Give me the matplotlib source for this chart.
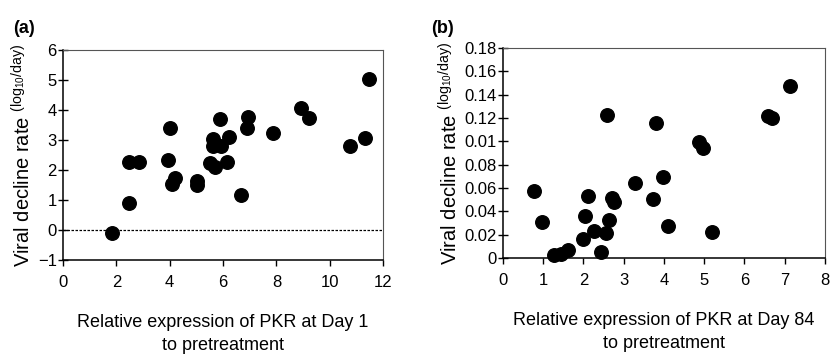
import matplotlib
matplotlib.use("Agg")
import matplotlib.pyplot as plt

plt.rcParams['font.family'] = ['Liberation Sans', 'DejaVu Sans']

# Panel (a): PKR at Day 1 vs viral decline rate
a_x = [1.85, 2.47, 2.47, 2.85, 3.93, 4.0, 4.08, 4.21, 5.01, 5.01, 5.50, 5.63, 5.63, 5.69,
       5.87, 5.94, 6.13, 6.24, 6.66, 6.88, 6.92, 7.88, 8.92, 9.21, 10.74, 11.33, 11.47]
a_y = [-0.11, 2.27, 0.89, 2.27, 2.33, 3.39, 1.52, 1.72, 1.63, 1.5, 2.22, 3.02, 2.81, 2.09,
       3.7, 2.81, 2.26, 3.11, 1.17, 3.39, 3.76, 3.22, 4.06, 3.74, 2.81, 3.08, 5.03]

# Panel (b): PKR at Day 84 vs viral decline rate
b_x = [0.77, 0.97, 1.26, 1.44, 1.61, 1.98, 2.03, 2.11, 2.27, 2.44, 2.56, 2.59, 2.64, 2.71,
       2.75, 3.27, 3.73, 3.81, 3.98, 4.11, 4.88, 4.98, 5.20, 6.59, 6.69, 7.13]
b_y = [0.0578, 0.0313, 0.0023, 0.0034, 0.0071, 0.0165, 0.0356, 0.0535, 0.0234, 0.0051,
       0.0214, 0.123, 0.0322, 0.0518, 0.0478, 0.0647, 0.0507, 0.1154, 0.0698, 0.0271,
       0.0997, 0.094, 0.0225, 0.1216, 0.1196, 0.1472]

a_xticks = [0, 2, 4, 6, 8, 10, 12]
a_yticks = [-1, 0, 1, 2, 3, 4, 5, 6]
b_xticks = [0, 1, 2, 3, 4, 5, 6, 7, 8]
b_yticks = [0, 0.02, 0.04, 0.06, 0.08, 0.10, 0.12, 0.14, 0.16, 0.18]
b_yticklabels = ['0', '0.02', '0.04', '0.06', '0.08', '0.01', '0.12', '0.14', '0.16', '0.18']

ylabel = r"Viral decline rate $^{\mathregular{(log_{10}/day)}}$"
xlabel_a = "Relative expression of PKR at Day 1\nto pretreatment"
xlabel_b = "Relative expression of PKR at Day 84\nto pretreatment"

fig = plt.figure(figsize=(8.38, 3.55), dpi=100)
ax1 = fig.add_axes([0.0752, 0.2676, 0.382, 0.5915])
ax2 = fig.add_axes([0.6002, 0.2732, 0.3842, 0.5915])

def style(ax):
    for s in ['left', 'bottom']:
        ax.spines[s].set_linewidth(1.1)
        ax.spines[s].set_color('black')
    for s in ['top', 'right']:
        ax.spines[s].set_linewidth(0.8)
        ax.spines[s].set_color('#555555')
    ax.tick_params(axis='y', direction='inout', length=7, width=1, labelsize=12, pad=1)
    ax.tick_params(axis='x', direction='out', length=4, width=1, labelsize=12, pad=7)

ax1.scatter(a_x, a_y, s=95, color='black', zorder=3, clip_on=False)
ax1.axhline(0, color='black', linestyle=(0, (2, 1.2)), linewidth=0.9)
ax1.set_xlim(0, 12)
ax1.set_ylim(-1, 6)
ax1.set_xticks(a_xticks)
ax1.set_yticks(a_yticks)
ax1.set_yticklabels(['\u22121'] + [str(v) for v in a_yticks[1:]])
style(ax1)
ax1.set_ylabel(ylabel, fontsize=14.5, labelpad=2)
ax1.set_xlabel(xlabel_a, fontsize=13, linespacing=1.45, labelpad=17)

ax2.scatter(b_x, b_y, s=95, color='black', zorder=3, clip_on=False)
ax2.set_xlim(0, 8)
ax2.set_ylim(0, 0.18)
ax2.set_xticks(b_xticks)
ax2.set_yticks(b_yticks)
ax2.set_yticklabels(b_yticklabels)
style(ax2)
ax2.set_ylabel(ylabel, fontsize=14.5, labelpad=2)
ax2.set_xlabel(xlabel_b, fontsize=13, linespacing=1.45, labelpad=17)

fig.text(0.0155, 0.921, "(a)", fontsize=13, fontweight='bold', va='center')
fig.text(0.515, 0.921, "(b)", fontsize=13, fontweight='bold', va='center')

fig.savefig("out.png", dpi=100)
